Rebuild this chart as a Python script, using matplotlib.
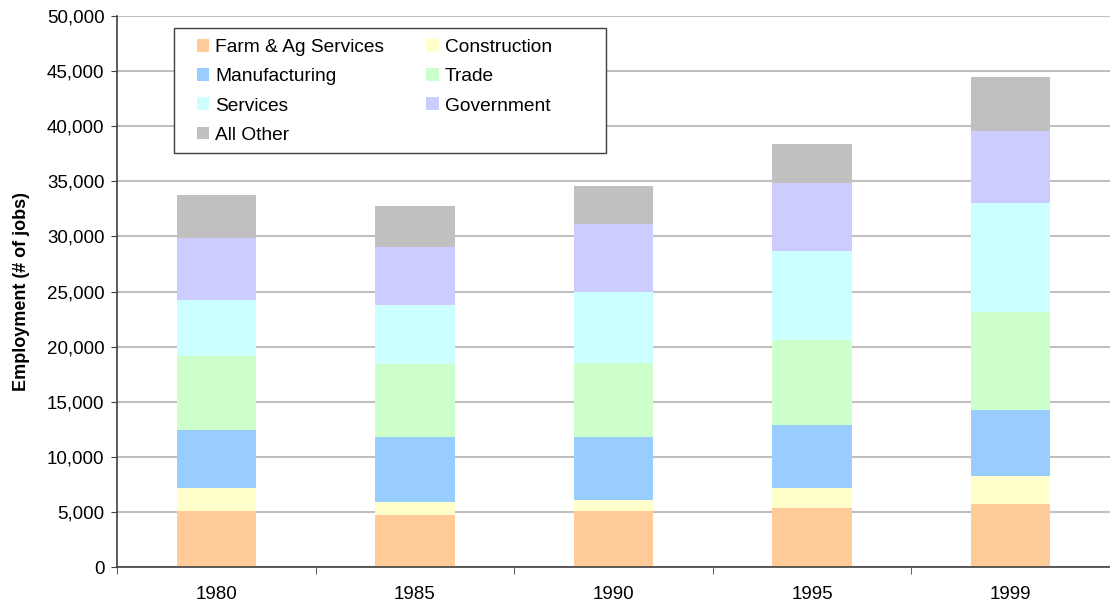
import matplotlib.pyplot as plt
from matplotlib.patches import Rectangle
import numpy as np

plt.rcParams['font.family'] = ['Liberation Sans', 'DejaVu Sans']

years = ['1980', '1985', '1990', '1995', '1999']
sectors = ['Farm & Ag Services', 'Construction', 'Manufacturing', 'Trade',
           'Services', 'Government', 'All Other']
colors = ['#FFCC99', '#FFFFCC', '#99CCFF', '#CCFFCC', '#CCFFFF', '#CCCCFF', '#C0C0C0']

farm = [5100, 4730, 5090, 5360, 5730]
construction = [2100, 1180, 1000, 1820, 2540]
manufacturing = [5250, 5910, 5730, 5730, 6000]
trade = [6730, 6570, 6730, 7730, 8910]
services = [5090, 5430, 6450, 8000, 9820]
government = [5550, 5180, 6090, 6180, 6550]
all_other = [3910, 3730, 3460, 3540, 4900]

series = [farm, construction, manufacturing, trade, services, government, all_other]

W, H = 1110, 603
fig = plt.figure(figsize=(W / 100, H / 100), dpi=100)
ax = fig.add_axes([117 / W, 1 - 567 / H, 993 / W, 551 / H])

x = np.arange(len(years))
bottom = np.zeros(len(years))
bars = []
for name, vals, c in zip(sectors, series, colors):
    b = ax.bar(x, vals, width=0.40, bottom=bottom, color=c, label=name, zorder=2)
    bars.append(b)
    bottom += np.array(vals)

ax.set_xlim(-0.5, 4.5)
ax.set_ylim(0, 50000)
ax.set_yticks(np.arange(0, 50001, 5000))
ax.set_yticklabels([f'{v:,}' for v in range(0, 50001, 5000)], fontsize=13.5)
ax.yaxis.grid(True, color='#c0c0c0', linewidth=1.5, zorder=0)
ax.set_axisbelow(True)

ax.set_xticks(x)
ax.set_xticklabels(years, fontsize=13.5)
ax.tick_params(axis='x', which='major', length=0, pad=14)
ax.set_xticks(np.arange(-0.5, 4.6, 1), minor=True)
ax.tick_params(axis='x', which='minor', length=5, color='#404040', direction='out')
ax.tick_params(axis='y', length=4, color='#404040', direction='out', pad=5)

for s in ['top', 'right']:
    ax.spines[s].set_visible(False)
for s in ['left', 'bottom']:
    ax.spines[s].set_color('#404040')
    ax.spines[s].set_linewidth(1.2)

ax.set_ylabel('Employment (# of jobs)', fontsize=13, fontweight='bold')
ax.yaxis.set_label_coords((30 - 117) / 993, 0.5)

# legend frame drawn separately so the inner padding can match
ax.add_patch(Rectangle((174 / W, 1 - 153 / H), 432 / W, 125 / H,
                       transform=fig.transFigure, facecolor='white',
                       edgecolor='#404040', linewidth=1.0, zorder=3, clip_on=False))

order = [0, 2, 4, 6, 1, 3, 5]
handles = [bars[i] for i in order]
labels = [sectors[i] for i in order]
leg = ax.legend(handles, labels, ncol=2, loc='upper left',
                bbox_to_anchor=(197 / W, 1 - 39 / H), bbox_transform=fig.transFigure,
                borderaxespad=0, borderpad=0, fontsize=13.8,
                handlelength=0.65, handleheight=0.65, handletextpad=0.3,
                labelspacing=0.63, frameon=False, columnspacing=2.2)
leg.set_zorder(4)

fig.savefig('out.png', dpi=100)
